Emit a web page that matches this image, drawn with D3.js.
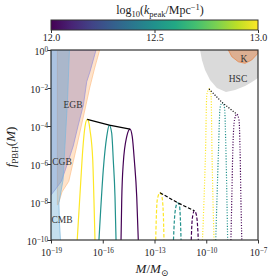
<!DOCTYPE html>
<html>
<head>
<meta charset="utf-8">
<script src="https://cdn.jsdelivr.net/npm/d3@7"></script>
<style>
  body { margin: 0; background: #fff; }
  text { font-family: "Liberation Serif", "DejaVu Serif", serif; fill: #222; }
</style>
</head>
<body>
<svg id="chart" width="273" height="280"></svg>
<script>
// peak wavenumbers, log10(k/Mpc^-1), one per colour
var kPeak = [13.0, 12.5, 12.0];

// solid curves (log10 M, log10 f)
var solidLogM = [
  [-17.48, -17.38, -17.28, -17.16, -17.03, -16.90, -16.80, -16.74, -16.58, -16.51, -16.45],
  [-16.22, -16.12, -15.97, -15.77, -15.62, -15.48, -15.39, -15.29, -15.23],
  [-14.94, -14.90, -14.81, -14.61, -14.42, -14.29, -14.17, -14.03, -13.94]
];
var solidLogF = [
  [-10, -8.5, -7.0, -5.26, -4.04, -3.65, -3.85, -4.21, -5.79, -7.9, -10],
  [-10, -8.42, -6.32, -4.56, -3.95, -4.38, -5.79, -7.72, -10],
  [-10, -7.89, -5.96, -4.56, -4.16, -4.56, -5.79, -7.72, -10]
];

// dashed curves
var dashedLogM = [
  [-12.93, -12.90, -12.84, -12.68, -12.57, -12.49, -12.45],
  [-11.90, -11.85, -11.78, -11.66, -11.55, -11.50, -11.46],
  [-10.87, -10.84, -10.78, -10.69, -10.58, -10.50, -10.46]
];
var dashedLogF = [
  [-10, -8.95, -7.89, -7.51, -7.72, -8.59, -10],
  [-10, -9.0, -8.35, -8.04, -8.2, -8.9, -10],
  [-10, -9.3, -8.7, -8.46, -8.65, -9.3, -10]
];

// dotted curves
var dottedLogM = [
  [-10.22, -10.13, -10.04, -9.97, -9.84, -9.72, -9.67, -9.61, -9.55],
  [-9.45, -9.38, -9.29, -9.20, -9.07, -8.94, -8.86, -8.80, -8.76],
  [-8.57, -8.52, -8.46, -8.36, -8.23, -8.10, -8.04, -7.99, -7.94]
];
var dottedLogF = [
  [-10, -7.89, -5.26, -2.37, -2.05, -2.37, -5.26, -7.89, -10],
  [-10, -7.89, -5.26, -3.05, -2.77, -3.05, -5.26, -7.89, -10],
  [-10, -7.89, -5.26, -3.68, -3.38, -3.68, -5.26, -7.89, -10]
];

// constraint boundaries (log10 M, log10 f), excluded above
var cmbLogM = [-19, -17.93, -18.04, -18.19, -18.30, -18.54, -18.51, -18.45, -18.45, -19];
var cmbLogF = [0, 0, -2.63, -5.0, -6.84, -8.05, -9.05, -10, -10.5, -10.5];
var cgbLogM = [-18.63, -18.63, -18.59, -18.36, -17.97, -17.53, -17.01, -16.76, -16.47, -16.18];
var cgbLogF = [0, -8.14, -8.14, -7.47, -6.91, -5.16, -3.05, -2.0, -0.95, 0];
var egbLogM = [-19, -16.39, -16.74, -16.93, -17.12, -17.42, -17.71, -18.07, -18.40, -18.77, -19];
var egbLogF = [0, 0, -1.14, -1.67, -2.89, -3.95, -5.05, -6.05, -6.91, -7.37, -7.63];
var hscLogM = [-10.36, -10.25, -10.07, -9.78, -9.38, -8.86, -8.33, -7.75, -7.35, -7.0, -7.0];
var hscLogF = [0, -0.53, -1.05, -1.58, -2.0, -2.21, -2.11, -1.89, -1.68, -1.47, 0];
var kepLogM = [-8.72, -8.52, -8.14, -7.75, -7.37, -7.0, -7.0];
var kepLogF = [0, -0.35, -0.62, -0.70, -0.53, -0.17, 0];

var xTicks = [1e-19, 1e-16, 1e-13, 1e-10, 1e-7];
var yTicks = [1e-10, 1e-8, 1e-6, 1e-4, 1e-2, 1];
var cbTicks = [12.0, 12.5, 13.0];

var pL = 51, pR = 258, pT = 50, pB = 240;

var svg = d3.select("#chart");

var x = d3.scaleLog().domain([1e-19, 1e-7]).range([pL, pR]);
var y = d3.scaleLog().domain([1e-10, 1]).range([pB, pT]);
var color = d3.scaleSequential(d3.interpolateViridis).domain([12, 13]);

function pts(lm, lf) {
  return lm.map(function(m, i) { return [Math.pow(10, m), Math.pow(10, lf[i])]; });
}

svg.append("clipPath").attr("id", "clip")
  .append("rect").attr("x", pL).attr("y", pT)
  .attr("width", pR - pL).attr("height", pB - pT);

var plot = svg.append("g").attr("clip-path", "url(#clip)");

var area = d3.line()
  .x(function(d) { return x(d[0]); })
  .y(function(d) { return y(d[1]); })
  .curve(d3.curveLinearClosed);

//constraint regions
var regions = [
  {lm: hscLogM, lf: hscLogF, fill: "#dadada", op: 1, stroke: "none"},
  {lm: kepLogM, lf: kepLogF, fill: "#e07b39", op: 0.45, stroke: "#e8803f"},
  {lm: cgbLogM, lf: cgbLogF, fill: "#fdae6b", op: 0.35, stroke: "#fdc08a"},
  {lm: egbLogM, lf: egbLogF, fill: "#7c6eb8", op: 0.32, stroke: "#9a90d8"},
  {lm: cmbLogM, lf: cmbLogF, fill: "#6baed6", op: 0.4, stroke: "#7db8dc"}
];
regions.forEach(function(r) {
  plot.append("path")
    .attr("d", area(pts(r.lm, r.lf)))
    .attr("fill", r.fill)
    .attr("fill-opacity", r.op)
    .attr("stroke", r.stroke)
    .attr("stroke-width", 0.7);
});

var line = d3.line()
  .x(function(d) { return x(d[0]); })
  .y(function(d) { return y(d[1]); })
  .curve(d3.curveMonotoneX);

var straight = d3.line()
  .x(function(d) { return x(d[0]); })
  .y(function(d) { return y(d[1]); });

var groups = [
  {lm: solidLogM, lf: solidLogF, dash: null},
  {lm: dashedLogM, lf: dashedLogF, dash: "3.5,1.8"},
  {lm: dottedLogM, lf: dottedLogF, dash: "1.1,1.6"}
];
groups.forEach(function(g) {
  var peaks = [];
  g.lm.forEach(function(lm, i) {
    var p = pts(lm, g.lf[i]);
    plot.append("path")
      .attr("d", line(p))
      .attr("fill", "none")
      .attr("stroke", color(kPeak[i]))
      .attr("stroke-width", 1.2)
      .attr("stroke-dasharray", g.dash);
    peaks.push(p[d3.maxIndex(p, function(d) { return d[1]; })]);
  });
  plot.append("path")
    .attr("d", straight(peaks))
    .attr("fill", "none")
    .attr("stroke", "#000")
    .attr("stroke-width", 1.2)
    .attr("stroke-dasharray", g.dash);
});

//region labels
var labels = [
  ["EGB", 73, 108], ["CGB", 62, 165], ["CMB", 62, 223], ["HSC", 238, 82], ["K", 244, 62]
];
labels.forEach(function(l) {
  svg.append("text").attr("x", l[1]).attr("y", l[2])
    .attr("text-anchor", "middle").attr("font-size", 9.5)
    .style("fill", "#333").text(l[0]);
});

//axes
function powLabel(sel, d) {
  var e = Math.round(Math.log10(d));
  sel.text("10");
  sel.append("tspan").attr("dy", "-0.45em").attr("font-size", "0.72em")
    .text(e < 0 ? "\u2212" + (-e) : e);
}

var xAxis = svg.append("g")
  .attr("transform", "translate(0," + pB + ")")
  .call(d3.axisBottom(x).tickValues(xTicks).tickSize(3.5).tickFormat(""));
xAxis.selectAll(".tick").append("text")
  .attr("y", 16).attr("font-size", 10).attr("text-anchor", "middle")
  .each(function(d) { powLabel(d3.select(this), d); });

var yAxis = svg.append("g")
  .attr("transform", "translate(" + pL + ",0)")
  .call(d3.axisLeft(y).tickValues(yTicks).tickSize(3.5).tickFormat(""));
yAxis.selectAll(".tick").append("text")
  .attr("x", -3).attr("dy", "0.45em").attr("font-size", 10).attr("text-anchor", "end")
  .each(function(d) { powLabel(d3.select(this), d); });

svg.selectAll(".domain").remove();
svg.selectAll(".tick line").attr("stroke", "#333");

svg.append("rect")
  .attr("x", pL).attr("y", pT)
  .attr("width", pR - pL).attr("height", pB - pT)
  .attr("fill", "none").attr("stroke", "#333").attr("stroke-width", 1.2);

//colorbar
var grad = svg.append("defs").append("linearGradient").attr("id", "vir");
d3.range(0, 1.0001, 0.1).forEach(function(t) {
  grad.append("stop").attr("offset", t).attr("stop-color", d3.interpolateViridis(t));
});
var cb = d3.scaleLinear().domain([12, 13]).range([pL, pR]);
svg.append("rect")
  .attr("x", pL).attr("y", 20).attr("width", pR - pL).attr("height", 10)
  .attr("fill", "url(#vir)").attr("stroke", "#333").attr("stroke-width", 1);
var cbAxis = svg.append("g")
  .attr("transform", "translate(0,30)")
  .call(d3.axisBottom(cb).tickValues(cbTicks).tickSize(3).tickFormat(d3.format(".1f")));
cbAxis.select(".domain").remove();
cbAxis.selectAll(".tick line").attr("stroke", "#333");
cbAxis.selectAll(".tick text").attr("y", 4).attr("font-size", 10)
  .attr("font-family", "Liberation Serif").style("fill", "#222");

//axis titles
var cbt = svg.append("text").attr("x", 160).attr("y", 14)
  .attr("text-anchor", "middle").attr("font-size", 12);
cbt.append("tspan").text("log");
cbt.append("tspan").attr("dy", 3).attr("font-size", 8.5).text("10");
cbt.append("tspan").attr("dy", -3).text("(");
cbt.append("tspan").attr("font-style", "italic").text("k");
cbt.append("tspan").attr("dy", 3).attr("font-size", 8.5).text("peak");
cbt.append("tspan").attr("dy", -3).text("/Mpc");
cbt.append("tspan").attr("dy", -4).attr("font-size", 8.5).text("\u22121");
cbt.append("tspan").attr("dy", 4).text(")");

var yt = svg.append("text")
  .attr("transform", "translate(15,147) rotate(-90)")
  .attr("text-anchor", "middle").attr("font-size", 13);
yt.append("tspan").attr("font-style", "italic").text("f");
yt.append("tspan").attr("dy", 3).attr("font-size", 9).text("PBH");
yt.append("tspan").attr("dy", -3).text("(");
yt.append("tspan").attr("font-style", "italic").text("M");
yt.append("tspan").text(")");

var xt = svg.append("text").attr("x", 152).attr("y", 273)
  .attr("text-anchor", "middle").attr("font-size", 13);
xt.append("tspan").attr("font-style", "italic").text("M");
xt.append("tspan").text("/");
xt.append("tspan").attr("font-style", "italic").text("M");
xt.append("tspan").attr("dy", 3).attr("font-size", 9).text("\u2299");
</script>
</body>
</html>
